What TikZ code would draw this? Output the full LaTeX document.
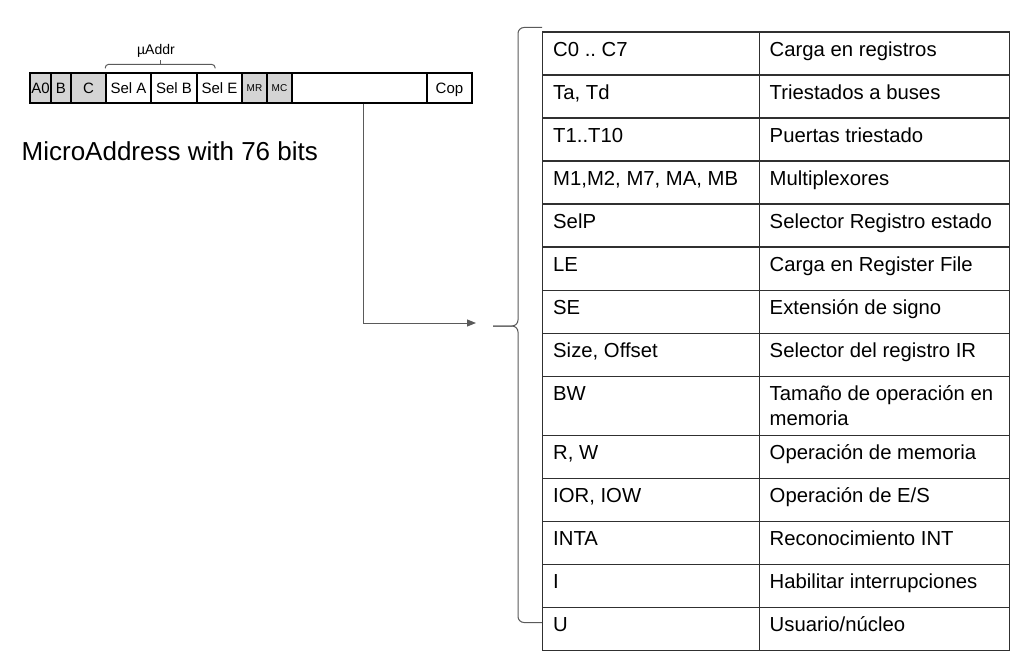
\documentclass[tikz,border=0pt]{standalone}
\usepackage{fontspec}
\setmainfont{Liberation Sans}
\usetikzlibrary{calc,arrows.meta}
\definecolor{fieldgray}{HTML}{D4D4D4}
\definecolor{linegray}{HTML}{5A5A5A}
\definecolor{rulecol}{HTML}{303030}
\frenchspacing

\begin{document}
\begin{tikzpicture}[x=1pt,y=-1pt,
	field/.style={draw=black,line width=1.3pt,inner sep=0pt,minimum height=30pt,
		font=\fontsize{15}{17}\selectfont,text height=10.5pt,text depth=0pt},
	grayfield/.style={field,fill=fieldgray},
	smallfield/.style={grayfield,font=\fontsize{10}{12}\selectfont,text height=7pt},
	cell/.style={draw=rulecol,line width=1.3pt,inner sep=0pt,anchor=north west},
	celltext/.style={font=\fontsize{20.3}{25}\selectfont,inner sep=0pt,anchor=base west},
	conn/.style={draw=linegray,line width=1pt}]
				\useasboundingbox (0,0) rectangle (1019,660);
				% microinstruction fields
				\foreach \xa/\xb/\lbl/\sty/\nm in {30/51/A0/grayfield/fa0, 51/71/B/grayfield/fb,
					71/106/C/grayfield/fc, 106/151/Sel A/field/fsela, 151/197/Sel B/field/fselb,
					197/242/Sel E/field/fsele, 242/267/MR/smallfield/fmr, 267/292/MC/smallfield/fmc,
					292/427/{}/field/fblank, 427/472/Cop/field/fcop}
					\node[\sty, minimum width={(\xb-\xa)*1pt}] (\nm) at ({(\xa+\xb)/2}, 88) {\lbl};
				% uAddr bracket
				\coordinate (ubl) at ($(fsela.north west)+(0,-4)$);
				\coordinate (ubr) at ($(fsele.north)+(-4.5,-4)$);
				\coordinate (ubmid) at (160.5,64.5);
				\coordinate (ubtip) at (160.5,60);
				\draw[conn,rounded corners=3pt] (ubl) |- (ubmid) -| (ubr);
				\draw[conn] (ubmid) -- (ubtip);
				\node[font=\fontsize{14}{16}\selectfont,anchor=base] (uaddr) at (156,55) {µAddr};
				\node[font=\fontsize{26}{30}\selectfont,anchor=base west,inner sep=0pt] (title) at (21.5,161)
					{MicroAddress with 76 bits};
				% signal table
				\foreach \kt/\dt/\h [count=\i] in {
					{C0 .. C7}/{Carga en registros}/43,
					{Ta, Td}/{Triestados a buses}/43,
					{T1..T10}/{Puertas triestado}/43,
					{M1,M2, M7, MA, MB}/{Multiplexores}/43,
					{SelP}/{Selector Registro estado}/43,
					{LE}/{Carga en Register File}/43,
					{SE}/{Extensión de signo}/43,
					{Size, Offset}/{Selector del registro IR}/43,
					{BW}/{\parbox[t]{240pt}{Tamaño de operación en\\memoria}}/59,
					{R, W}/{Operación de memoria}/43,
					{IOR, IOW}/{Operación de E/S}/43,
					{INTA}/{Reconocimiento INT}/43,
					{I}/{Habilitar interrupciones}/43,
					{U}/{Usuario/núcleo}/43}
				{
					\pgfmathsetmacro{\ytop}{31.5+43*(\i-1)+16*(\i>9)}
					\node[cell,minimum width=216.5pt,minimum height=\h pt] (k\i) at (542,\ytop) {};
					\node[cell,minimum width=250.5pt,minimum height=\h pt] (d\i) at (758.5,\ytop) {};
					\node[celltext] (kt\i) at ($(k\i.north west)+(11,24.6)$) {\kt};
					\node[celltext] (dt\i) at ($(d\i.north west)+(11,24.6)$) {\dt};
				}
				% big brace and arrow
				\coordinate (brtop) at (542,27.5);
				\coordinate (brbot) at (542,622.5);
				\coordinate (brtip) at (493,326);
				\draw[conn,rounded corners=6pt] (brtop) -- (518,27.5) -- (518,326) -- (brtip);
				\draw[conn,rounded corners=6pt] (brtip) -- (518,326) -- (518,622.5) -- (brbot);
				\coordinate (arrend) at (476,323);
				\draw[conn,-{Triangle[length=9pt,width=7pt]}] ($(fblank.south)+(3.5,0)$) |- (arrend);
			\end{tikzpicture}
\end{document}
